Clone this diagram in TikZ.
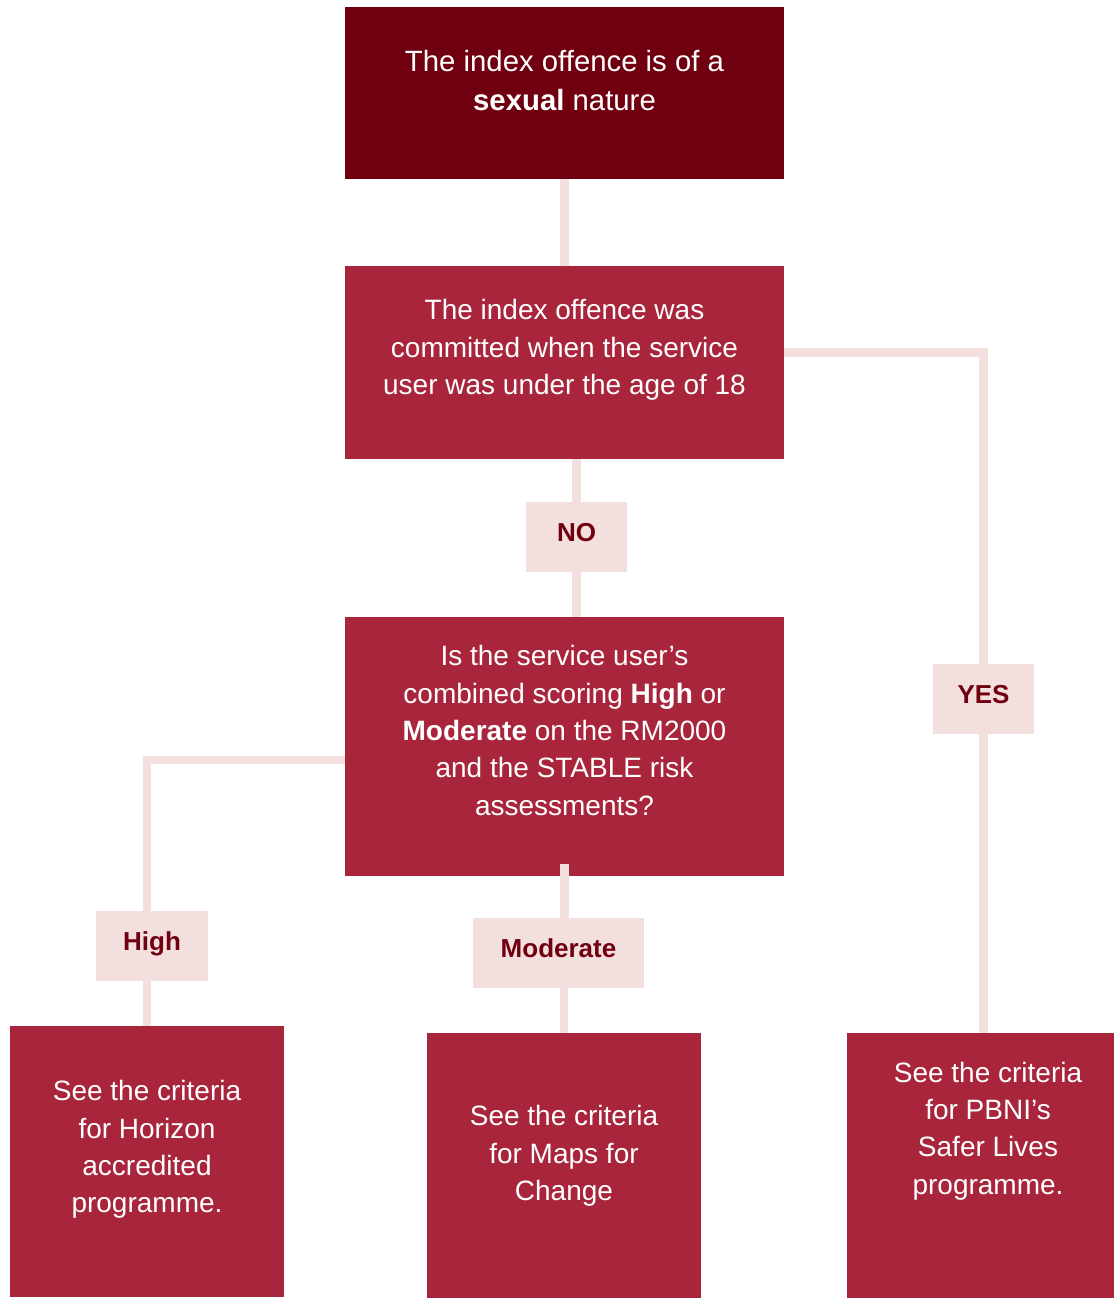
\documentclass[tikz,border=0pt]{standalone}
\usepackage{fontspec}
\setmainfont{Liberation Sans}
\usepackage{xcolor}
\usepackage{tikz}
\usetikzlibrary{calc,backgrounds}

\definecolor{darkwine}{RGB}{112,0,16}
\definecolor{wine}{RGB}{168,37,59}
\definecolor{blush}{RGB}{243,223,221}

\begin{document}
\begin{tikzpicture}[x=0.75pt,y=0.75pt,yscale=-1,xscale=1,
  box/.style={fill=wine, draw=none, inner sep=0pt},
  boxtext/.style={text=white, align=center, inner sep=0pt, font=\fontsize{21}{28}\selectfont},
  tag/.style={fill=blush, text=darkwine, inner sep=0pt, minimum height=52.5pt, text height=14pt, text depth=7.5pt, font=\fontsize{19.5}{23}\selectfont\bfseries},
  link/.style={draw=blush, line width=6.4pt}]
\useasboundingbox (0,0) rectangle (1114,1299);

%Shape: Rectangle (top)
\node [box, fill=darkwine, minimum width=329.25pt, minimum height=129pt] (sexual) at (564.5,93) {};
%Shape: Rectangle
\node [box, minimum width=329.25pt, minimum height=144.75pt] (under18) at (564.5,362.5) {};
%Shape: Rectangle
\node [box, minimum width=329.25pt, minimum height=194.25pt] (scoring) at (564.5,746.5) {};
%Shape: Rectangle
\node [box, minimum width=205.5pt, minimum height=203.25pt] (horizon) at (147,1161.5) {};
%Shape: Rectangle
\node [box, minimum width=205.5pt, minimum height=198.75pt] (maps) at (564,1165.5) {};
%Shape: Rectangle
\node [box, minimum width=200.25pt, minimum height=198.75pt] (safer) at (980.5,1165.5) {};

% Text Node
\node [boxtext, font=\fontsize{22}{29.25}\selectfont] (sexualtext) at (564.5,81) {The index offence is of a\\\textbf{sexual} nature};
% Text Node
\node [boxtext] (under18text) at (564.5,350) {The index offence was\\committed when the service\\user was under the age of 18};
% Text Node
\node [boxtext] (scoringtext) at (564.5,730.5) {Is the service user’s\\combined scoring \textbf{High} or\\\textbf{Moderate} on the RM2000\\and the STABLE risk\\assessments?};
% Text Node
\node [boxtext] (horizontext) at (147,1149.5) {See the criteria\\for Horizon\\accredited\\programme.};
% Text Node
\node [boxtext] (mapstext) at (564,1156) {See the criteria\\for Maps for\\Change};
% Text Node
\node [boxtext] (safertext) at (988,1131) {See the criteria\\for PBNI’s\\Safer Lives\\programme.};

% Labels
\node [tag, minimum width=75.75pt] (no) at (576.5,537) {NO};
\node [tag, minimum width=75.75pt] (yes) at (983.5,699) {YES};
\node [tag, minimum width=84pt] (high) at (152,946) {High};
\node [tag, minimum width=128.25pt] (moderate) at (558.5,953) {Moderate};

%Straight Lines
\begin{pgfonlayer}{background}
\draw [link] (sexual.south) -- (under18.north);
\draw [link] (under18.south -| no) -- (scoring.north -| no);
\draw [link] ($(under18.east)+(0,-10)$) -| (yes.center) -- (yes |- safer.north);
\draw [link] ($(scoring.west)+(0,13.5)$) -| (horizon.north);
\draw [link] (moderate.south -| maps.north) -- (maps.north);
\end{pgfonlayer}
\draw [link] ($(scoring.south)+(0,-12)$) -- (moderate.north -| scoring.south);

\end{tikzpicture}
\end{document}
